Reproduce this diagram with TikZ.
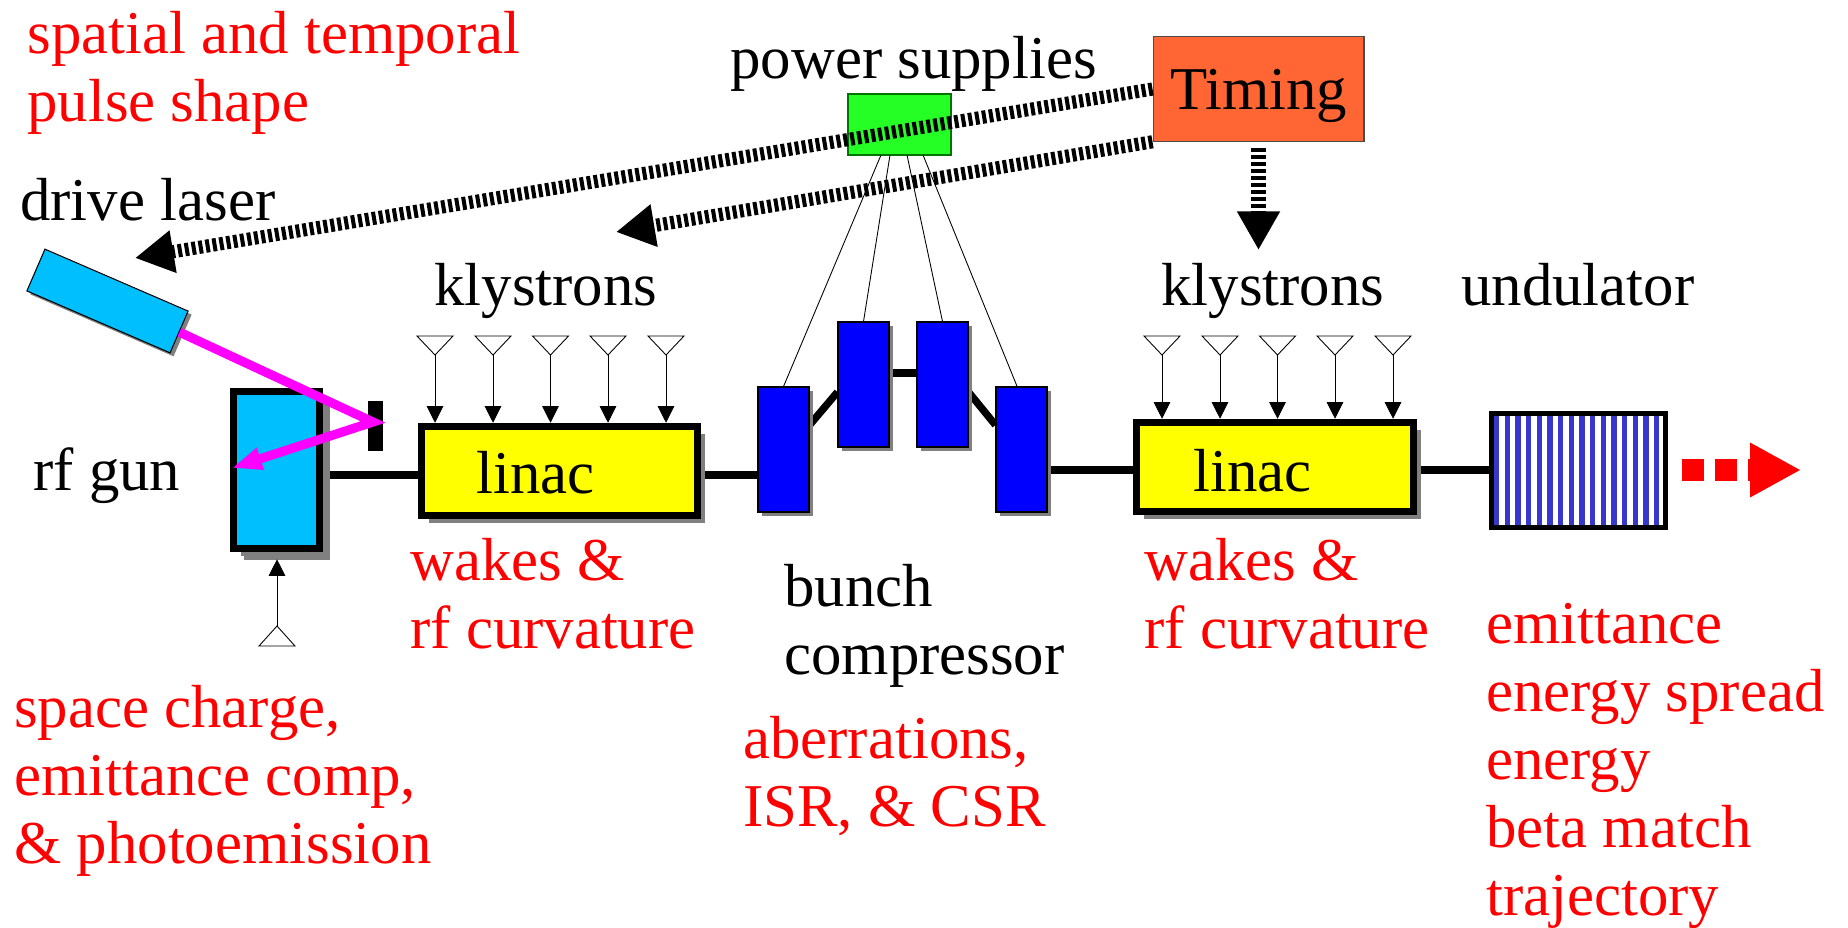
\documentclass[tikz,border=0pt]{standalone}
\usepackage{fontspec}
\setmainfont{Liberation Serif}
\usepackage{tikz}
\usetikzlibrary{arrows.meta,shadows,backgrounds}

\definecolor{gunblue}{RGB}{0,191,255}
\definecolor{supplygreen}{RGB}{38,255,38}
\definecolor{timingorange}{RGB}{255,102,51}
\definecolor{stripeblue}{RGB}{55,55,205}
\definecolor{linacyellow}{RGB}{255,255,0}
\definecolor{lasermagenta}{RGB}{255,0,255}
\definecolor{bendblue}{RGB}{0,0,255}

\begin{document}
\begin{tikzpicture}[x=0.02cm,y=0.02cm]
	\tikzstyle{every node}+=[inner sep=0pt,font=\fontsize{34.6}{38.6}\selectfont]
	\tikzstyle{lbl}=[anchor=base west,align=left]
	\tikzstyle{issue}=[lbl,text=red]
	\tikzstyle{beam}=[line width=4.2pt]
	\tikzstyle{heavybox}=[draw=black,line width=4.3pt,drop shadow={shadow xshift=4.5pt,shadow yshift=-4.5pt,fill=black!50,opacity=1}]
	\tikzstyle{dipole}=[draw=black,line width=0.6pt,fill=bendblue,minimum width=1.02cm,minimum height=2.5cm,drop shadow={shadow xshift=2.3pt,shadow yshift=-2.3pt,fill=black!50,opacity=1}]
	\tikzstyle{antenna}=[draw=black,line width=0.5pt]
	\tikzstyle{rfarrow}=[draw=black,line width=0.5pt,-{Triangle[length=9.5pt,width=9.5pt]}]
	\tikzstyle{trigger}=[draw=black,line width=7.5pt,dash pattern=on 2.3pt off 1.7pt,-{Triangle[length=22pt,width=23pt]}]
	\useasboundingbox (0,0) rectangle (1848,-927);

	\node [heavybox,fill=gunblue,minimum width=1.72cm,minimum height=3.14cm,drop shadow={shadow xshift=6pt,shadow yshift=-6.5pt,fill=black!50,opacity=1}] (gun) at (276.5,-470) {};
	\node [draw=black,line width=0.6pt,fill=gunblue,rotate=-23.4,minimum width=3.12cm,minimum height=0.91cm,drop shadow={shadow xshift=2pt,shadow yshift=-2pt,fill=black!50,opacity=1}] (laser) at (107.5,-301) {};
	\node [fill=black,minimum width=0.3cm,minimum height=1cm] (cathode) at (375.5,-426) {};
	\node [heavybox,fill=linacyellow,minimum width=5.52cm,minimum height=1.78cm] (linacA) at (559.5,-471) {};
	\node [heavybox,fill=linacyellow,minimum width=5.54cm,minimum height=1.78cm] (linacB) at (1275,-467) {};
	\node [dipole] (dipoleA) at (783.5,-449.5) {};
	\node [dipole] (dipoleB) at (863.5,-384.5) {};
	\node [dipole] (dipoleC) at (942.5,-384.5) {};
	\node [dipole] (dipoleD) at (1021.5,-449.5) {};
	\node [fill=white,minimum width=3.48cm,minimum height=2.28cm] (undulator) at (1578.5,-470.5) {};
	\draw [stripeblue,line width=3pt] (1496.7,-416) -- ++(0,-110) (1507.4,-416) -- ++(0,-110) (1518,-416) -- ++(0,-110) (1528.7,-416) -- ++(0,-110)
		(1539.3,-416) -- ++(0,-110) (1550,-416) -- ++(0,-110) (1560.7,-416) -- ++(0,-110) (1571.3,-416) -- ++(0,-110)
		(1582,-416) -- ++(0,-110) (1592.6,-416) -- ++(0,-110) (1603.3,-416) -- ++(0,-110) (1614,-416) -- ++(0,-110)
		(1624.6,-416) -- ++(0,-110) (1635.3,-416) -- ++(0,-110) (1645.9,-416) -- ++(0,-110) (1656.6,-416) -- ++(0,-110);
	\draw [black,line width=2.8pt] (undulator.south west) rectangle (undulator.north east);
	\node [draw=green!45!black,line width=0.6pt,fill=supplygreen,minimum width=2.06cm,minimum height=1.22cm] (supply) at (899.5,-124.5) {};
	\node [draw=black!70,line width=0.6pt,fill=timingorange,minimum width=4.22cm,minimum height=2.09cm,text depth=0pt] (timing) at (1258.5,-89) {Timing};

	\coordinate (beamLow) at (0,-475);
	\coordinate (beamHigh) at (0,-470);
	\begin{pgfonlayer}{background}
		\draw [beam] (gun.east |- beamLow) -- (linacA.west |- beamLow);
		\draw [beam] (linacA.east |- beamLow) -- (dipoleA.west |- beamLow);
		\draw [beam] ([yshift=13.9pt]dipoleA.east) -- ([yshift=-4.3pt]dipoleB.west);
		\draw [beam] ([yshift=6.5pt]dipoleB.east) -- ([yshift=6.5pt]dipoleC.west);
		\draw [beam] ([yshift=-4.3pt]dipoleC.east) -- ([yshift=13.9pt]dipoleD.west);
		\draw [beam] (dipoleD.east |- beamHigh) -- (linacB.west |- beamHigh);
		\draw [beam] (linacB.east |- beamHigh) -- (undulator.west |- beamHigh);
	\end{pgfonlayer}

	\coordinate (feedA) at (881,-155);
	\coordinate (feedB) at (890,-155);
	\coordinate (feedC) at (907,-155);
	\coordinate (feedD) at (923,-155);
	\draw [black,line width=0.5pt] (feedA) -- (dipoleA.north);
	\draw [black,line width=0.5pt] (feedB) -- (dipoleB.north);
	\draw [black,line width=0.5pt] (feedC) -- (dipoleC.north);
	\draw [black,line width=0.5pt] (feedD) -- ([xshift=-2.5pt]dipoleD.north);

	\coordinate (laserTip) at (135,-258);
	\coordinate (linacTip) at (616,-232);
	\coordinate (timingTip) at (1258.5,-250);
	\draw [trigger] (timing.west) -- (laserTip);
	\draw [trigger] (timing.south west) -- (linacTip);
	\draw [trigger,line width=8.5pt,shorten <=3.4pt] (timing.south) -- (timingTip);

	\coordinate (bounce) at (373,-422);
	\coordinate (gunSpot) at (232,-468);
	\draw [lasermagenta,line width=5.2pt,miter limit=20,-{Triangle[length=17pt,width=12pt]}] (laser.east) -- (bounce) -- (gunSpot);

	\coordinate (klyA) at (435,-355);
	\draw [antenna] (klyA) -- ++(-18,19) -- ++(36,0) -- cycle;
	\draw [rfarrow] (klyA) -- (klyA |- linacA.north);
	\coordinate (klyB) at (493,-355);
	\draw [antenna] (klyB) -- ++(-18,19) -- ++(36,0) -- cycle;
	\draw [rfarrow] (klyB) -- (klyB |- linacA.north);
	\coordinate (klyC) at (550.5,-355);
	\draw [antenna] (klyC) -- ++(-18,19) -- ++(36,0) -- cycle;
	\draw [rfarrow] (klyC) -- (klyC |- linacA.north);
	\coordinate (klyD) at (608,-355);
	\draw [antenna] (klyD) -- ++(-18,19) -- ++(36,0) -- cycle;
	\draw [rfarrow] (klyD) -- (klyD |- linacA.north);
	\coordinate (klyE) at (666,-355);
	\draw [antenna] (klyE) -- ++(-18,19) -- ++(36,0) -- cycle;
	\draw [rfarrow] (klyE) -- (klyE |- linacA.north);
	\coordinate (klyF) at (1162,-355);
	\draw [antenna] (klyF) -- ++(-18,19) -- ++(36,0) -- cycle;
	\draw [rfarrow] (klyF) -- (klyF |- linacB.north);
	\coordinate (klyG) at (1220,-355);
	\draw [antenna] (klyG) -- ++(-18,19) -- ++(36,0) -- cycle;
	\draw [rfarrow] (klyG) -- (klyG |- linacB.north);
	\coordinate (klyH) at (1277.5,-355);
	\draw [antenna] (klyH) -- ++(-18,19) -- ++(36,0) -- cycle;
	\draw [rfarrow] (klyH) -- (klyH |- linacB.north);
	\coordinate (klyI) at (1335,-355);
	\draw [antenna] (klyI) -- ++(-18,19) -- ++(36,0) -- cycle;
	\draw [rfarrow] (klyI) -- (klyI |- linacB.north);
	\coordinate (klyJ) at (1393,-355);
	\draw [antenna] (klyJ) -- ++(-18,19) -- ++(36,0) -- cycle;
	\draw [rfarrow] (klyJ) -- (klyJ |- linacB.north);
	\coordinate (klyGun) at (277,-626);
	\draw [antenna] (klyGun) -- ++(-18,-20) -- ++(36,0) -- cycle;
	\draw [rfarrow,shorten >=4pt] (klyGun) -- (klyGun |- gun.south);

	\coordinate (exitStart) at (1682,-470);
	\coordinate (exitEnd) at (1801,-470);
	\draw [red,line width=12.5pt,dash pattern=on 12.5pt off 6.2pt,-{Triangle[length=29pt,width=29pt]}] (exitStart) -- (exitEnd);

	\node [issue] (pulseText) at (27,-121) {spatial and temporal\\pulse shape};
	\node [lbl] (laserText) at (20,-220) {drive laser};
	\node [lbl] (supplyText) at (730,-78) {power supplies};
	\node [lbl] (klyTextA) at (434,-305) {klystrons};
	\node [lbl] (klyTextB) at (1161,-305) {klystrons};
	\node [lbl] (undulatorText) at (1461,-305) {undulator};
	\node [lbl] (gunText) at (33,-490) {rf gun};
	\node [lbl] (linacTextA) at (476,-493) {linac};
	\node [lbl] (linacTextB) at (1193,-491) {linac};
	\node [issue] (wakesA) at (410,-648) {wakes \&\\rf curvature};
	\node [issue] (wakesB) at (1144,-648) {wakes \&\\rf curvature};
	\node [lbl] (bunchText) at (784,-674) {bunch\\compressor};
	\node [issue] (aberrText) at (743,-826) {aberrations,\\ISR, \& CSR};
	\node [issue] (chargeText) at (14,-863) {space charge,\\emittance comp,\\\& photoemission};
	\node [issue] (emitText) at (1486,-915) {emittance\\energy spread\\energy\\beta match\\trajectory};
\end{tikzpicture}
\end{document}
